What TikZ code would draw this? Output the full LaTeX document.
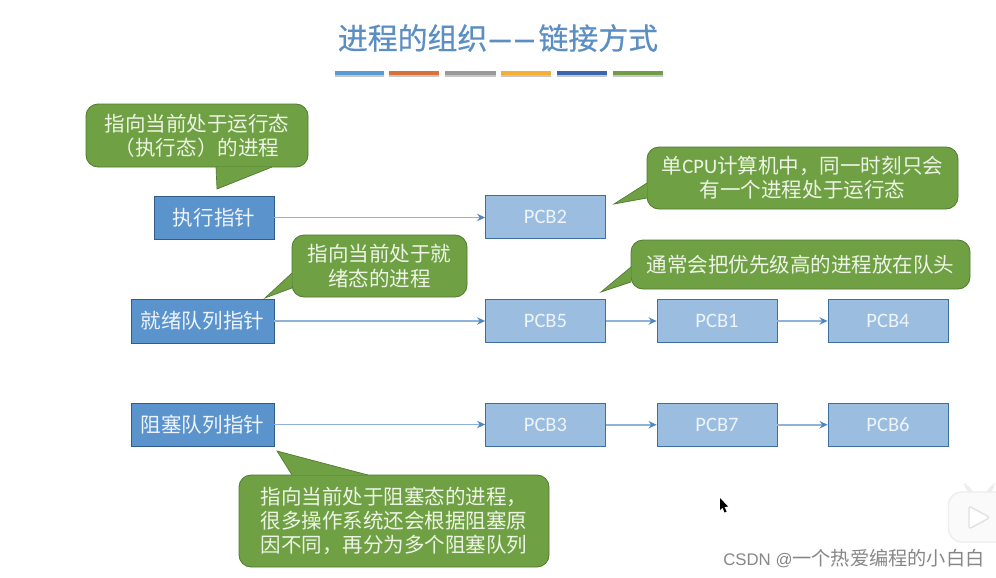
\documentclass[tikz,border=0pt]{standalone}
\usepackage{fontspec}
\setmainfont{Carlito}
\newfontfamily\cjk{Noto Sans CJK SC}
\newfontfamily\cjkb[FakeBold=0.5]{Noto Sans CJK SC}
\newfontfamily\cjkd[FakeBold=2.4]{Noto Sans CJK SC}
\newfontfamily\wm{Liberation Sans}
\usetikzlibrary{arrows.meta}
\definecolor{titleblue}{HTML}{5B8EC2}
\definecolor{ptrfill}{HTML}{5B93CC}
\definecolor{ptredge}{HTML}{2F5C88}
\definecolor{pcbfill}{HTML}{9ABDE0}
\definecolor{pcbedge}{HTML}{3F6F9F}
\definecolor{cfill}{HTML}{70A044}
\definecolor{cedge}{HTML}{4F7A30}
\definecolor{ctext}{HTML}{EDF4E6}
\definecolor{btext}{HTML}{EEF4FA}
\definecolor{linkc}{HTML}{8FB2D8}
\definecolor{headc}{HTML}{4F86C0}
\tikzset{
  x=0.75pt,y=-0.75pt,
  boxbase/.style={rectangle,inner sep=0pt,line width=0.6pt},
  ptrbox/.style={boxbase,draw=ptredge,fill=ptrfill,text=btext,font=\cjk\fontsize{15.4}{18}\selectfont},
  pcbbox/.style={boxbase,draw=pcbedge,fill=pcbfill,text=btext,font=\fontsize{15.4}{18}\selectfont},
  callout/.style={rectangle,rounded corners=9pt,inner sep=0pt,draw=cedge,fill=cfill,line width=0.6pt,text=ctext,align=center,font=\cjk\fontsize{15.4}{18.2}\selectfont},
  tailfill/.style={fill=cfill,draw=none},
  tailedge/.style={draw=cedge,line width=0.5pt},
  link/.style={draw=linkc,line width=1.2pt,-{Stealth[length=6pt,width=5.5pt,color=headc]}},
  bar/.style={line width=3.4pt},
  barshadow/.style={draw=black!22,line width=2pt}
}
\newcommand{\tail}[3]{%
  \fill[tailfill] (#1) -- (#2) -- (#3) -- cycle;
  \draw[tailedge] (#1) -- (#2) -- (#3);}
\begin{document}
\begin{tikzpicture}
\useasboundingbox (0,0) rectangle (996,578);
\fill[white] (0,0) rectangle (996,578);
% title
\node[text=titleblue,font=\cjkb\fontsize{22.4}{28}\selectfont,inner sep=0pt] (title) at (498,38) {进程的组织\hspace{1pt}{\cjkd\scalebox{0.86}[1]{—}\hspace{2pt}\scalebox{0.76}[1]{—}}\hspace{3pt}链接方式};
\foreach \a/\b/\c in {335/384/5B9BD5,389/439/D9703A,445/496/999999,501/551/F4B035,557/607/3A66AE,613/663/6F9C45}{
  \draw[barshadow] (\a,76) -- (\b,76);
  \definecolor{barc}{HTML}{\c}
  \draw[bar,draw=barc] (\a,73) -- (\b,73);
}
% pointer boxes
\node[ptrbox,minimum width=90pt,minimum height=32.25pt] (run) at (214,217.5) {执行指针};
\node[ptrbox,minimum width=107.25pt,minimum height=33pt] (ready) at (202.5,321) {就绪队列指针};
\node[ptrbox,minimum width=107.25pt,minimum height=32.25pt] (block) at (202.5,424.5) {阻塞队列指针};
% PCBs
\foreach \n/\t/\cx/\cy in {p2/PCB2/545.5/217,p5/PCB5/545.5/321,p1/PCB1/717/321,p4/PCB4/888/321,p3/PCB3/545.5/424.75,p7/PCB7/717/424.75,p6/PCB6/888/424.75}{
  \node[pcbbox,minimum width=90pt,minimum height=32.25pt] (\n) at (\cx,\cy) {\t};
}
% links
\draw[link] (run.east) -- (run.east -| p2.west);
\draw[link] (ready.east) -- (p5.west);
\draw[link] (p5.east) -- (p1.west);
\draw[link] (p1.east) -- (p4.west);
\draw[link] (block.east) -- (block.east -| p3.west);
\draw[link] (p3.east) -- (p7.west);
\draw[link] (p7.east) -- (p6.west);
% callouts
\node[callout,minimum width=166.5pt,minimum height=47.25pt] (c1) at (197,135.5) {指向当前处于运行态\\（执行态）的进程};
\coordinate (c1a) at (216,167); \coordinate (c1t) at (217,189); \coordinate (c1b) at (272,167);
\tail{c1a}{c1t}{c1b}
\node[callout,minimum width=131.25pt,minimum height=46.5pt] (c2) at (379.5,266) {指向当前处于就\\绪态的进程};
\coordinate (c2a) at (292,273); \coordinate (c2t) at (265,298); \coordinate (c2b) at (292,288);
\tail{c2a}{c2t}{c2b}
\node[callout,minimum width=233.25pt,minimum height=46.5pt] (c3) at (802.5,178) {单{\fontspec{Carlito}CPU}计算机中，同一时刻只会\\有一个进程处于运行态};
\coordinate (c3a) at (647,183); \coordinate (c3t) at (614,204); \coordinate (c3b) at (647,198);
\tail{c3a}{c3t}{c3b}
\node[callout,minimum width=254.25pt,minimum height=36.75pt] (c4) at (800.5,264.5) {通常会把优先级高的进程放在队头};
\coordinate (c4a) at (631,267); \coordinate (c4t) at (601,292); \coordinate (c4b) at (631,282);
\tail{c4a}{c4t}{c4b}
\node[callout,minimum width=232.5pt,minimum height=69pt,align=left] (c5) at (394,521) {指向当前处于阻塞态的进程，\\很多操作系统还会根据阻塞原\\因不同，再分为多个阻塞队列};
\coordinate (c5a) at (292,475); \coordinate (c5t) at (277,451); \coordinate (c5b) at (368,475);
\tail{c5a}{c5t}{c5b}
% cursor
\fill[black] (720,498) -- (720,510) -- (722.5,507.5) -- (724.5,512.5) -- (726.5,511.5) -- (724.5,507) -- (728,506.5) -- cycle;
% play icon
\fill[black!7,rounded corners=3pt] (963,484.5) -- (966,483.5) -- (975,493.5) -- (970,494) -- cycle;
\fill[black!7,rounded corners=3pt] (996,484) -- (993,483.5) -- (985,493.5) -- (990,494) -- cycle;
\draw[black!7,fill=black!2,line width=1pt,rounded corners=10pt] (1010,492) -- (948.5,492) -- (948.5,542) -- (1010,542);
\draw[black!12,fill=white,line width=1pt,rounded corners=2pt] (969,506) -- (969,529) -- (990,517.5) -- cycle;
% watermark
\node[anchor=west,text=black!47,inner sep=0pt] (mark) at (723,558.5) {\wm\fontsize{12.6}{15}\selectfont CSDN @\cjk\fontsize{14.4}{15}\selectfont 一个热爱编程的小白白};
\end{tikzpicture}
\end{document}
